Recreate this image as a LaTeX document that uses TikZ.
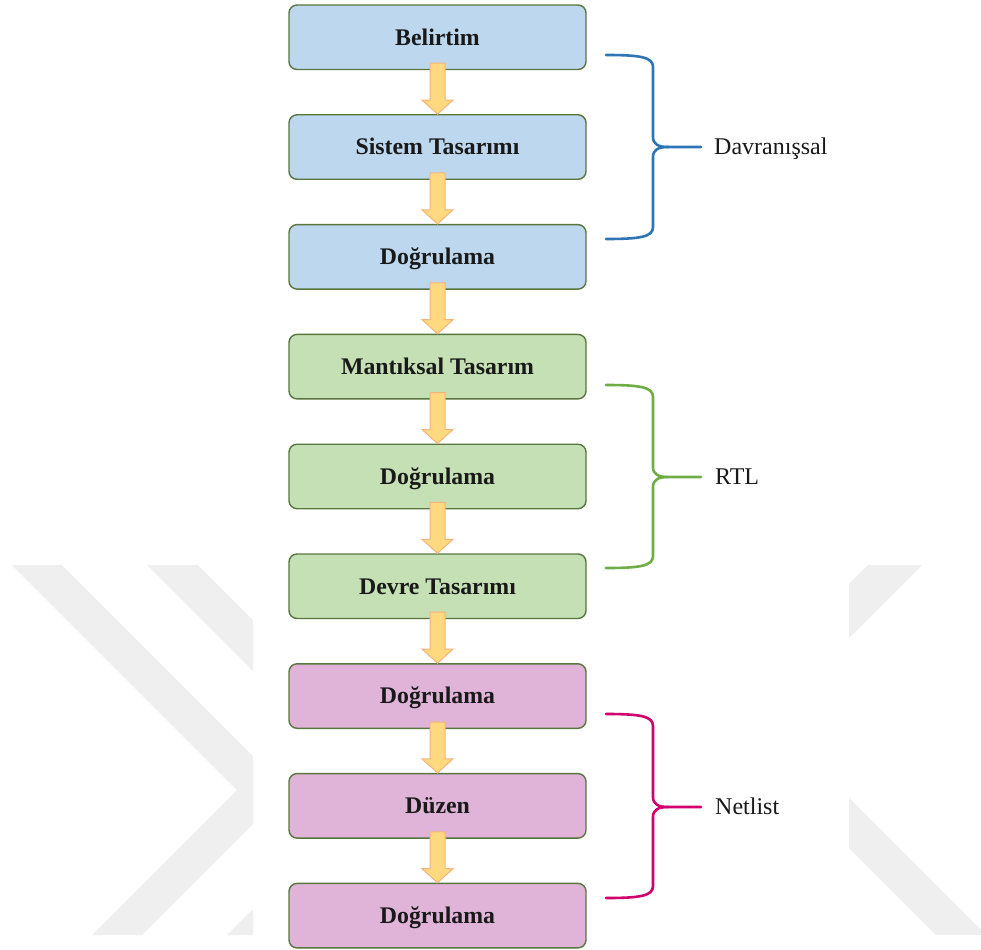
\documentclass[tikz,border=0pt]{standalone}
\usepackage{fontspec}
\setmainfont{Liberation Serif}
\usetikzlibrary{calc}

\definecolor{boxblue}{RGB}{189,215,238}
\definecolor{boxgreen}{RGB}{197,224,180}
\definecolor{boxpink}{RGB}{224,180,217}
\definecolor{boxline}{RGB}{88,118,62}
\definecolor{arrfill}{RGB}{255,217,128}
\definecolor{arrline}{RGB}{246,180,125}
\definecolor{brblue}{RGB}{46,117,182}
\definecolor{brgreen}{RGB}{112,173,71}
\definecolor{brpink}{RGB}{208,0,110}
\definecolor{wmark}{RGB}{239,239,239}

\tikzset{
  stage/.style={draw=boxline, line width=1.4pt, rounded corners=8pt,
    minimum width=297pt, minimum height=64.5pt, inner sep=0pt,
    text height=15.8pt, text depth=0pt, text=black!90,
    font=\fontsize{23.8}{28}\selectfont\bfseries},
  flowarrow/.style={fill=arrfill, draw=arrline, line width=1pt, line join=miter},
  brace/.style={line width=2.6pt, line cap=round},
  grouplabel/.style={anchor=base west, inner sep=0pt, text=black!90,
    font=\fontsize{24}{28}\selectfont},
}

% block arrow from the bottom of one stage to the top of the next
\newcommand\stagearrow[2]{%
  \draw[flowarrow] let \p1=(#1.south), \p2=(#2.north) in
    (\x1-7.5pt,\y1+7pt) -- (\x1+7.5pt,\y1+7pt) -- (\x1+7.5pt,\y2+14pt)
    -- (\x1+15.5pt,\y2+14pt) -- (\x1,\y2) -- (\x1-15.5pt,\y2+14pt)
    -- (\x1-7.5pt,\y2+14pt) -- cycle;}

% curly brace: colour, top end, bottom end, tip
\newcommand\groupbrace[4]{%
  \draw[brace,#1] (606,#2) .. controls (640,#2) and (653,{#2+2}) .. (653,{#2+12})
    -- (653,{#4-10}) .. controls (653,{#4-3}) and (658,#4) .. (668,#4) -- (701,#4);
  \draw[brace,#1] (606,#3) .. controls (640,#3) and (653,{#3-2}) .. (653,{#3-12})
    -- (653,{#4+10}) .. controls (653,{#4+3}) and (658,#4) .. (668,#4);}

\begin{document}
\begin{tikzpicture}[x=1pt, y=-1pt]
\useasboundingbox (0,0) rectangle (981,949);
\fill[white] (0,0) rectangle (981,949);

% faint background logo bands
\begin{scope}
  \clip (0,565) rectangle (253,949);
  \fill[wmark] (12,565) -- (62,565) -- (287,790) -- (142,935) -- (92,935) -- (237,790) -- cycle;
  \fill[wmark] (147,565) -- (198,565) -- (423,790) -- (278,935) -- (227,935) -- (372,790) -- cycle;
\end{scope}
\begin{scope}
  \clip (849,565) rectangle (981,949);
  \fill[wmark] (868,565) -- (922,565) -- (700,787) -- (646,787) -- cycle;
  \fill[wmark] (700,649) -- (986,935) -- (936,935) -- (700,699) -- cycle;
\end{scope}

% stages
\node[stage, fill=boxblue]  (s1) at (437.5,37.25)  {Belirtim};
\node[stage, fill=boxblue]  (s2) at (437.5,147.05) {Sistem Tasarımı};
\node[stage, fill=boxblue]  (s3) at (437.5,256.85) {Doğrulama};
\node[stage, fill=boxgreen] (s4) at (437.5,366.65) {Mantıksal Tasarım};
\node[stage, fill=boxgreen] (s5) at (437.5,476.45) {Doğrulama};
\node[stage, fill=boxgreen] (s6) at (437.5,586.25) {Devre Tasarımı};
\node[stage, fill=boxpink]  (s7) at (437.5,696.05) {Doğrulama};
\node[stage, fill=boxpink]  (s8) at (437.5,805.85) {Düzen};
\node[stage, fill=boxpink]  (s9) at (437.5,915.65) {Doğrulama};

% flow arrows
\stagearrow{s1}{s2}
\stagearrow{s2}{s3}
\stagearrow{s3}{s4}
\stagearrow{s4}{s5}
\stagearrow{s5}{s6}
\stagearrow{s6}{s7}
\stagearrow{s7}{s8}
\stagearrow{s8}{s9}

% abstraction levels
\groupbrace{brblue}{55}{239}{147}
\groupbrace{brgreen}{385}{568}{477}
\groupbrace{brpink}{714}{898}{807}

\node[grouplabel] (l1) at (714,155) {Davranışsal};
\node[grouplabel] (l2) at (715,484) {RTL};
\node[grouplabel] (l3) at (715,814) {Netlist};
\end{tikzpicture}
\end{document}
